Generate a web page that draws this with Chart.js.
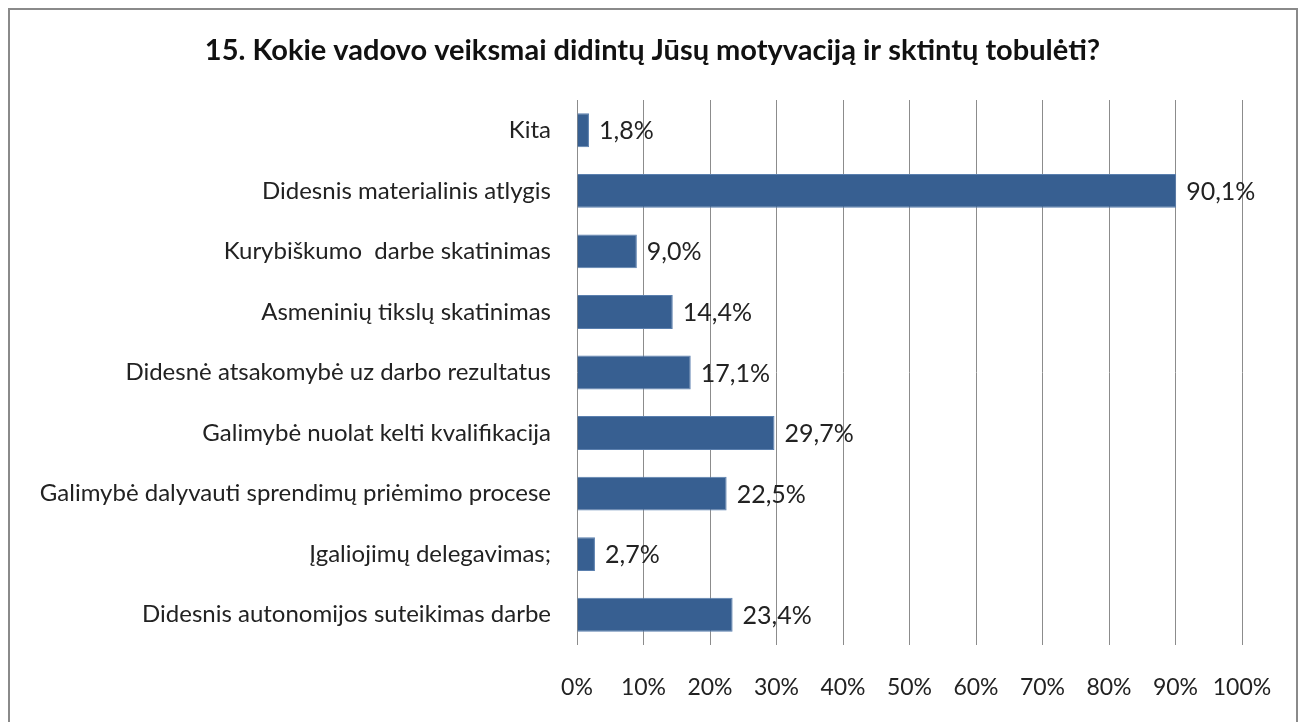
<!DOCTYPE html>
<html lang="lt">
<head>
    <meta charset="UTF-8">
    <title>15. Kokie vadovo veiksmai</title>
    <script src="https://cdn.jsdelivr.net/npm/chart.js"></script>
    <style>
        body { margin: 0; background: #fff; }
        #wrap { width: 1305px; height: 722px; }
    </style>
</head>
<body>
    <div id="wrap"><canvas id="chart" width="1305" height="722"></canvas></div>

    <script>
        // Duomenys
        const categories = [
            'Kita',
            'Didesnis materialinis atlygis',
            'Kurybiškumo  darbe skatinimas',
            'Asmeninių tikslų skatinimas',
            'Didesnė atsakomybė uz darbo rezultatus',
            'Galimybė nuolat kelti kvalifikacija',
            'Galimybė dalyvauti sprendimų priėmimo procese',
            'Įgaliojimų delegavimas;',
            'Didesnis autonomijos suteikimas darbe'
        ];
        const values = [1.8, 90.1, 9.0, 14.4, 17.1, 29.7, 22.5, 2.7, 23.4];
        const xTicks = [0, 10, 20, 30, 40, 50, 60, 70, 80, 90, 100];
        const title = '15. Kokie vadovo veiksmai didintų Jūsų motyvaciją ir sktintų tobulėti?';

        const FONT = 'Lato, "Open Sans", sans-serif';

        // rėmelis ir pavadinimas
        const framePlugin = {
            id: 'frame',
            beforeDraw(chart) {
                const ctx = chart.ctx;
                ctx.save();
                ctx.strokeStyle = '#8a8a8a';
                ctx.lineWidth = 2;
                ctx.strokeRect(9, 9, 1288, 800);
                ctx.font = 'bold 29px ' + FONT;
                ctx.fillStyle = '#111';
                ctx.textAlign = 'center';
                ctx.textBaseline = 'middle';
                ctx.fillText(title, chart.width / 2, 51);
                ctx.restore();
            }
        };

        // reikšmės šalia stulpelių
        const valueLabels = {
            id: 'valueLabels',
            afterDatasetsDraw(chart) {
                const ctx = chart.ctx;
                const meta = chart.getDatasetMeta(0);
                ctx.save();
                ctx.font = '25px ' + FONT;
                ctx.fillStyle = '#222';
                ctx.textBaseline = 'middle';
                ctx.textAlign = 'left';
                meta.data.forEach((bar, i) => {
                    const txt = values[i].toFixed(1).replace('.', ',') + '%';
                    ctx.fillText(txt, bar.x + 10, bar.y + 1);
                });
                ctx.restore();
            }
        };

        new Chart(document.getElementById('chart'), {
            type: 'bar',
            data: {
                labels: categories,
                datasets: [{
                    data: values,
                    backgroundColor: '#375f91',
                    borderColor: '#5a7fae',
                    borderWidth: 1,
                    borderSkipped: 'start',
                    categoryPercentage: 0.56,
                    barPercentage: 1
                }]
            },
            options: {
                indexAxis: 'y',
                responsive: false,
                animation: false,
                layout: { padding: { left: 0, right: 63, top: 100, bottom: 0 } },
                plugins: {
                    legend: { display: false },
                    tooltip: { enabled: false },
                    title: { display: false }
                },
                scales: {
                    x: {
                        min: 0,
                        max: 100,
                        afterBuildTicks(scale) {
                            scale.ticks = xTicks.map(v => ({ value: v }));
                        },
                        afterFit(scale) { scale.height = 77; },
                        grid: { color: '#8c8c8c', lineWidth: 1, drawTicks: false },
                        border: { display: false },
                        ticks: {
                            padding: 29,
                            color: '#222',
                            font: { family: FONT, size: 23 },
                            callback: v => v + '%'
                        }
                    },
                    y: {
                        afterFit(scale) { scale.width = 577; },
                        grid: { display: false },
                        border: { display: false },
                        ticks: {
                            padding: 18,
                            color: '#222',
                            font: { family: FONT, size: 24 }
                        }
                    }
                }
            },
            plugins: [framePlugin, valueLabels]
        });
    </script>
</body>
</html>
